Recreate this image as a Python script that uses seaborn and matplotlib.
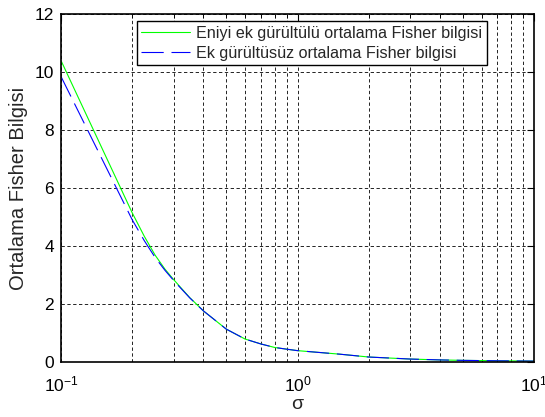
import numpy as np
import pandas as pd
import matplotlib
matplotlib.use("Agg")
import matplotlib.pyplot as plt
from matplotlib.ticker import LogLocator, NullFormatter, LogFormatterSciNotation
import seaborn as sns

# --------------------------
# Data
# --------------------------
sigma = [0.1, 0.2, 0.225, 0.25, 0.275, 0.3, 0.35, 0.4, 0.5, 0.6, 0.7, 0.8, 0.9, 1.0,
         1.5, 2.0, 3.0, 4.0, 5.0, 7.0, 10.0]
fisher_optimal = [10.39, 5.14, 4.33, 3.68, 3.20, 2.83, 2.22, 1.76, 1.13, 0.79, 0.62, 0.50,
                  0.44, 0.39, 0.27, 0.17, 0.10, 0.07, 0.055, 0.04, 0.03]
fisher_no_noise = [9.84, 4.90, 4.18, 3.60, 3.16, 2.80, 2.21, 1.76, 1.13, 0.79, 0.62, 0.50,
                   0.44, 0.39, 0.27, 0.17, 0.10, 0.07, 0.055, 0.04, 0.03]
labels = ["Eniyi ek gürültülü ortalama Fisher bilgisi",
          "Ek gürültüsüz ortalama Fisher bilgisi"]
y_ticks = [0, 2, 4, 6, 8, 10, 12]

df = pd.DataFrame({"sigma": sigma,
                   "opt": fisher_optimal,
                   "plain": fisher_no_noise})

# --------------------------
# Style
# --------------------------
sns.set_style("white")
plt.rcParams["font.family"] = ["Liberation Sans", "DejaVu Sans"]
plt.rcParams["mathtext.fontset"] = "custom"
plt.rcParams["mathtext.rm"] = "Liberation Sans"
plt.rcParams["mathtext.it"] = "Liberation Sans"
plt.rcParams["mathtext.default"] = "regular"

fig = plt.figure(figsize=(5.45, 4.17), dpi=100)
ax = fig.add_axes([0.112, 0.132, 0.868, 0.8345])

sns.lineplot(data=df, x="sigma", y="opt", ax=ax, color="#00ff00",
             lw=0.8, label=labels[0], estimator=None, sort=False)
sns.lineplot(data=df, x="sigma", y="plain", ax=ax, color="#0000ff",
             lw=0.8, label=labels[1], estimator=None, sort=False,
             dashes=False)
ax.lines[1].set_dashes((20, 7))

ax.set_xscale("log")
ax.set_xlim(0.1, 10)
ax.set_ylim(0, 12)
ax.set_yticks(y_ticks)
ax.xaxis.set_major_locator(LogLocator(base=10))
ax.xaxis.set_minor_locator(LogLocator(base=10, subs=np.arange(2, 10)))
ax.xaxis.set_major_formatter(LogFormatterSciNotation())
ax.xaxis.set_minor_formatter(NullFormatter())

grid_kw = dict(color="black", linestyle=(0, (4, 3)), linewidth=0.6)
ax.grid(True, which="both", axis="x", **grid_kw)
ax.grid(True, which="major", axis="y", **grid_kw)

ax.tick_params(which="both", direction="in", top=True, right=True,
               labelsize=12.5, colors="black")
ax.tick_params(which="major", length=5, width=0.8)
ax.tick_params(which="minor", length=3, width=0.6)
ax.tick_params(axis="x", which="major", pad=9)
ax.tick_params(axis="y", which="major", pad=5)
for s in ax.spines.values():
    s.set_color("black")
    s.set_linewidth(1.2)

ax.set_xlabel("σ", fontsize=14, labelpad=1)
ax.set_ylabel("Ortalama Fisher Bilgisi", fontsize=14.5, labelpad=5)

leg = ax.legend(loc="upper right", bbox_to_anchor=(0.9006, 0.98),
                fontsize=11.6, frameon=True, fancybox=False,
                edgecolor="black", handlelength=3.0, borderpad=0.3,
                labelspacing=0.3, handletextpad=0.4, borderaxespad=0)
leg.get_frame().set_linewidth(1.0)
leg.get_frame().set_alpha(1)

fig.savefig("out.png", dpi=100)
